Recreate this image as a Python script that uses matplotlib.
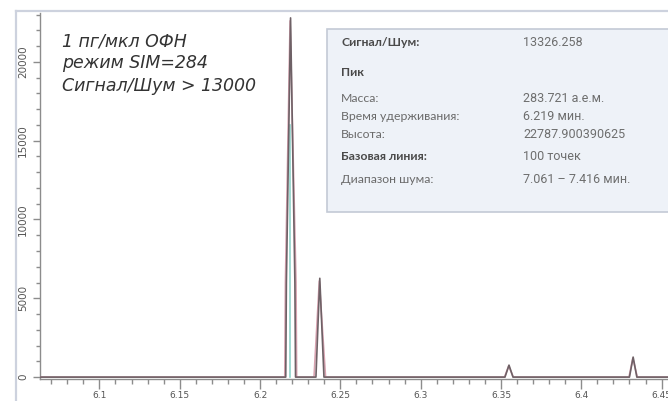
import matplotlib
matplotlib.use("Agg")
import matplotlib.pyplot as plt
from matplotlib.patches import Rectangle
from matplotlib.ticker import MultipleLocator

# Chromatogram traces (retention time, min / abundance)
trace_a_time = [6.063, 6.2160, 6.2164, 6.2190, 6.2217, 6.2221, 6.2348, 6.2372, 6.2398,
                6.3525, 6.3550, 6.3575, 6.4300, 6.4323, 6.4346, 6.454]
trace_a_int = [0, 0, 6000, 22788, 6000, 0, 0, 6270, 0,
               0, 760, 0, 0, 1270, 0, 0]
trace_b_time = [6.063, 6.2154, 6.2158, 6.2187, 6.2224, 6.2228, 6.2336, 6.2369, 6.2408,
                6.3522, 6.3548, 6.3577, 6.4297, 6.4321, 6.4349, 6.454]
trace_b_int = [0, 0, 6000, 22600, 6000, 0, 0, 6100, 0,
               0, 700, 0, 0, 1200, 0, 0]
marker_time = 6.2187
marker_top = 16000

x_ticks = [6.1, 6.15, 6.2, 6.25, 6.3, 6.35, 6.4, 6.45]
x_labels = ["6.1", "6.15", "6.2", "6.25", "6.3", "6.35", "6.4", "6.45"]
y_ticks = [0, 5000, 10000, 15000, 20000]

note_lines = ["1 пг/мкл ОФН", "режим SIM=284", "Сигнал/Шум > 13000"]

info_labels = ["Сигнал/Шум:", "Пик", "Масса:", "Время удерживания:", "Высота:",
               "Базовая линия:", "Диапазон шума:"]
info_values = ["13326.258", "", "283.721 а.е.м.", "6.219 мин.", "22787.900390625",
               "100 точек", "7.061 – 7.416 мин."]
info_bold = [True, True, False, False, False, True, False]

W, H = 668, 401
fig = plt.figure(figsize=(W / 100, H / 100), dpi=100)
fig.patch.set_facecolor("white")

# outer frame lines
frame_col = "#cdd2de"
fig.add_artist(plt.Line2D([16 / W, 1], [1 - 11 / H, 1 - 11 / H], color=frame_col, lw=1.6))
fig.add_artist(plt.Line2D([16 / W, 16 / W], [0, 1 - 11 / H], color=frame_col, lw=1.6))

ax = fig.add_axes([40 / W, 1 - 379 / H, 1 - 40 / W, (379 - 13) / H])
ax.set_facecolor("none")
ax.plot(trace_b_time, trace_b_int, color="#d9a3b1", lw=1.2, zorder=3)
ax.plot([marker_time, marker_time], [0, marker_top], color="#8fd3c9", lw=1.2, zorder=4)
ax.plot(trace_a_time, trace_a_int, color="#6e6166", lw=1.2, zorder=5)

ax.set_xlim(6.063, 6.454)
ax.set_ylim(-120, 23100)
ax.set_xticks(x_ticks)
ax.set_xticklabels(x_labels)
ax.xaxis.set_minor_locator(MultipleLocator(0.01))
ax.set_yticks(y_ticks)
ax.yaxis.set_minor_locator(MultipleLocator(1000))
for s in ["top", "right"]:
    ax.spines[s].set_visible(False)
for s in ["left", "bottom"]:
    ax.spines[s].set_color("#8c8c8c")
    ax.spines[s].set_linewidth(1.0)
ax.tick_params(axis="x", which="major", length=7, width=1, color="#8c8c8c",
               labelsize=6.5, labelcolor="#555555", pad=2)
ax.tick_params(axis="x", which="minor", length=3.5, width=1, color="#8c8c8c")
ax.tick_params(axis="y", which="major", length=5, width=1, color="#8c8c8c",
               labelsize=7.5, labelcolor="#555555", pad=3.5)
ax.tick_params(axis="y", which="minor", length=3, width=1, color="#8c8c8c")
for lab in ax.get_yticklabels():
    lab.set_rotation(90)
    lab.set_va("center")

# sample note
for i, line in enumerate(note_lines):
    fig.text(62 / W, 1 - (41 + i * 22.5) / H, line, fontsize=12.5, style="italic",
             family="DejaVu Sans", color="#333333", va="center", ha="left")

# info panel
fig.add_artist(Rectangle((327 / W, 1 - 212 / H), (W + 10 - 327) / W, (212 - 29) / H,
                         transform=fig.transFigure, facecolor="#eef2f8",
                         edgecolor="#c3cad6", lw=1.2, zorder=1))
rows_y = [42, 73, 98, 117, 135, 157, 179]
for lbl, val, bold, yy in zip(info_labels, info_values, info_bold, rows_y):
    fig.text(341 / W, 1 - yy / H, lbl, fontsize=8.8,
             fontweight="bold" if bold else "normal", family="Lato",
             color="#4a4a4a" if bold else "#6a6a6a", va="center", ha="left", zorder=2)
    if val:
        fig.text(523 / W, 1 - yy / H, val, fontsize=9.0, family="Roboto",
                 color="#6e6e6e", va="center", ha="left", zorder=2)

fig.savefig("out.png", dpi=100)
